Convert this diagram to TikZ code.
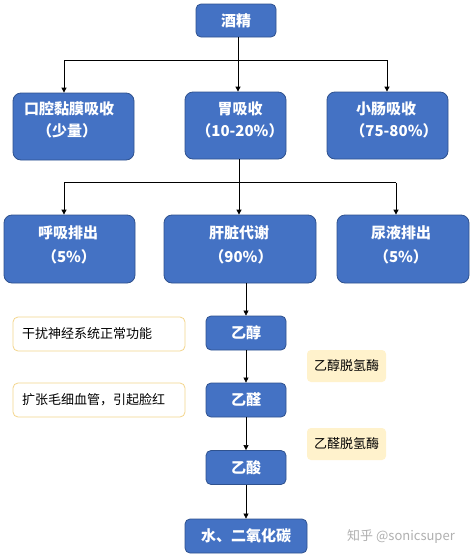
\documentclass[tikz,border=0pt]{standalone}
\usepackage{fontspec}
\setmainfont{Noto Sans CJK SC}
\usetikzlibrary{arrows.meta}
\definecolor{bfill}{HTML}{4472C4}
\definecolor{bdraw}{HTML}{2F528F}
\definecolor{ndraw}{HTML}{F3D58C}
\definecolor{efill}{HTML}{FFF2CC}
\definecolor{wmark}{HTML}{B0B0B0}
\begin{document}
\begin{tikzpicture}[x=1pt,y=-1pt,
  bluebox/.style={draw=bdraw, line width=0.8pt, fill=bfill, rounded corners=8pt, inner sep=0pt},
  smallbox/.style={draw=bdraw, line width=0.8pt, fill=bfill, rounded corners=5pt, inner sep=0pt, minimum height=34pt, text=white, font=\fontsize{15}{18}\selectfont\bfseries},
  btxt/.style={text=white, font=\fontsize{15}{18}\selectfont\bfseries, inner sep=0pt},
  notebox/.style={draw=ndraw, line width=0.8pt, fill=white, rounded corners=5pt, minimum width=172pt, minimum height=34pt, inner sep=0pt},
  ntxt/.style={font=\fontsize{13}{15}\selectfont, inner sep=0pt, anchor=west},
  enzbox/.style={fill=efill, rounded corners=4pt, minimum width=79pt, minimum height=32pt, inner sep=0pt, font=\fontsize{13}{15}\selectfont},
  arr/.style={-{Triangle[length=5pt,width=5pt]}, line width=0.9pt},
  tarr/.style={-{Triangle[length=5pt,width=5pt]}, line width=0.6pt}
]
\fill[white] (0,0) rectangle (476,560);
\useasboundingbox (0,0) rectangle (476,560);

% top
\node[smallbox, minimum width=80pt, minimum height=33pt] (wine) at (236,20.5) {酒精};

% row 1
\node[bluebox, minimum width=121pt, minimum height=67pt] (oral) at (73.5,126.5) {};
\node[btxt] (oralt) at (69,109) {口腔黏膜吸收};
\node[btxt] (orals) at (67,131) {（少量）};
\node[bluebox, minimum width=101pt, minimum height=67pt] (stom) at (235.5,125.5) {};
\node[btxt] (stomt) at (240,109) {胃吸收};
\node[btxt] (stoms) at (240,131) {（10-20\%）};
\node[bluebox, minimum width=121pt, minimum height=67pt] (intes) at (387.5,125.5) {};
\node[btxt] (intest) at (386,109) {小肠吸收};
\node[btxt] (intess) at (394,131) {（75-80\%）};

% row 2
\node[bluebox, minimum width=131pt, minimum height=68pt] (breath) at (69.5,249) {};
\node[btxt] (breatht) at (68,233) {呼吸排出};
\node[btxt] (breaths) at (69,257) {（5\%）};
\node[bluebox, minimum width=152pt, minimum height=68pt] (liver) at (240,249) {};
\node[btxt] (livert) at (239,233) {肝脏代谢};
\node[btxt] (livers) at (241,257) {（90\%）};
\node[bluebox, minimum width=132pt, minimum height=68pt] (urine) at (403,249) {};
\node[btxt] (urinet) at (401,233) {尿液排出};
\node[btxt] (urines) at (401,257) {（5\%）};

% chain
\node[smallbox, minimum width=80pt] (eth) at (246,333) {乙醇};
\node[smallbox, minimum width=80pt] (ald) at (246,400) {乙醛};
\node[smallbox, minimum width=80pt] (acid) at (246,467.5) {乙酸};
\node[smallbox, minimum width=122pt] (water) at (246,536) {水、二氧化碳};

% notes
\node[notebox] (n1) at (99,334) {};
\node[ntxt] (n1t) at (22,334) {干扰神经系统正常功能};
\node[notebox] (n2) at (99,400) {};
\node[ntxt] (n2t) at (22,400) {扩张毛细血管，引起脸红};

% enzymes
\node[enzbox] (e1) at (346.5,366) {乙醇脱氢酶};
\node[enzbox] (e2) at (346.5,444) {乙醛脱氢酶};

% watermark
\node[text=wmark, font=\fontsize{13}{15}\selectfont, inner sep=0pt] (wm) at (401,537) {知乎 @sonicsuper};

% connectors top
\coordinate (j1) at (238,60);
\coordinate (j1l) at (64,60);
\coordinate (j1r) at (387,60);
\draw[line width=0.9pt] (j1l) -- (j1r);
\draw[arr] (wine.south -| j1) -- (j1 |- stom.north);
\draw[arr] (j1l) -- (j1l |- oral.north);
\draw[arr] (j1r) -- (j1r |- intes.north);

% connectors middle
\coordinate (j2) at (239,182.5);
\coordinate (j2l) at (64,182.5);
\coordinate (j2r) at (396,182.5);
\draw[line width=0.9pt] (j2l) -- (j2r);
\draw[line width=0.9pt] (j2 |- stom.south) -- (j2);
\draw[arr] (j2) -- (j2 |- liver.north);
\draw[arr] (j2l) -- (j2l |- breath.north);
\draw[arr] (j2r) -- (j2r |- urine.north);

% chain connectors
\draw[tarr] (liver.south -| eth) -- (eth.north);
\draw[tarr] (eth) -- (ald);
\draw[tarr] (ald) -- (acid);
\draw[tarr] (acid) -- (water);
\end{tikzpicture}
\end{document}
